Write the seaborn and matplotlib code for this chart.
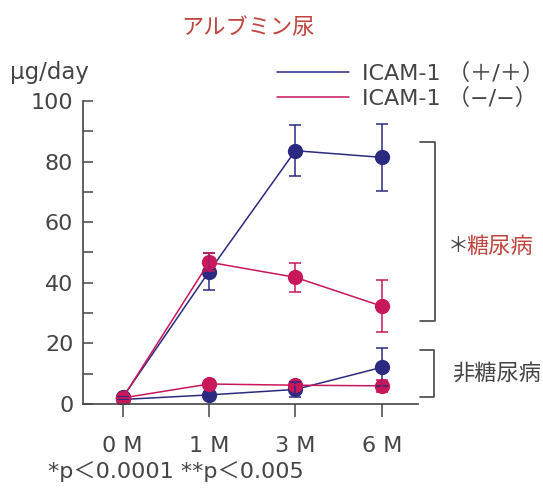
import numpy as np
import matplotlib.pyplot as plt
import seaborn as sns
import pandas as pd
from matplotlib.lines import Line2D

months = ["0 M", "1 M", "3 M", "6 M"]
genotypes = ["ICAM-1 （＋/＋）", "ICAM-1 （−/−）"]

# 糖尿病
wt_dm = [2.2, 43.7, 83.6, 81.4]
wt_dm_sd = [0, 6.0, 8.5, 11.0]
ko_dm = [2.0, 46.8, 41.8, 32.3]
ko_dm_sd = [0, 3.0, 4.7, 8.6]
# 非糖尿病
wt_ctl = [1.5, 3.0, 4.8, 12.1]
wt_ctl_sd = [0, 0, 2.5, 6.3]
ko_ctl = [2.0, 6.6, 6.2, 6.0]
ko_ctl_sd = [0, 0, 0, 2.0]

blue = "#2b2a80"
red = "#c8175a"
grey = "#454545"

sns.set_style("white")
plt.rcParams['font.family'] = ['DejaVu Sans', 'Noto Sans CJK JP']

rows = []
for name, geno, vals in [("wt_ctl", 0, wt_ctl), ("ko_ctl", 1, ko_ctl),
                         ("wt_dm", 0, wt_dm), ("ko_dm", 1, ko_dm)]:
    for i, v in enumerate(vals):
        rows.append({"month": i, "value": v, "genotype": genotypes[geno], "group": name})
df = pd.DataFrame(rows)

fig = plt.figure(figsize=(5.43, 4.9), dpi=100)
ax = fig.add_axes([83 / 543, 86 / 490, (418 - 83) / 543, 303 / 490])

sns.lineplot(data=df, x="month", y="value", hue="genotype", units="group",
             estimator=None, marker="o", markersize=11, markeredgewidth=0,
             palette={genotypes[0]: blue, genotypes[1]: red}, linewidth=1.1,
             ax=ax, legend=False)

x = np.arange(len(months))
for vals, sd, c in [(wt_dm, wt_dm_sd, blue), (ko_dm, ko_dm_sd, red),
                    (wt_ctl, wt_ctl_sd, blue), (ko_ctl, ko_ctl_sd, red)]:
    ax.errorbar(x, vals, yerr=sd, fmt="none", ecolor=c, elinewidth=1.1,
                capsize=4, capthick=1.1)

ax.set_xlim(-0.46, 3.42)
ax.set_ylim(0, 100)
ax.set_xticks(x)
ax.set_xticklabels(months)
ax.set_yticks(np.arange(0, 101, 20))
ax.set_yticks(np.arange(0, 101, 10), minor=True)
ax.set_xlabel("")
ax.set_ylabel("")
for s in ["top", "right"]:
    ax.spines[s].set_visible(False)
for s in ["left", "bottom"]:
    ax.spines[s].set_color(grey)
    ax.spines[s].set_linewidth(1.2)
ax.tick_params(axis="y", which="both", direction="in", length=7, width=1.1,
               color=grey, labelsize=16, labelcolor=grey, pad=7, left=True)
ax.tick_params(axis="x", direction="out", length=9, width=1.1, color=grey,
               labelsize=16, labelcolor=grey, pad=14, bottom=True)

# brackets
bk = dict(color=grey, lw=1.2, clip_on=False)
ax.plot([3.44, 3.62, 3.62, 3.44], [86.5, 86.5, 27.4, 27.4], **bk)
ax.plot([3.44, 3.60, 3.60, 3.44], [17.8, 17.8, 2.4, 2.4], **bk)
ax.text(3.76, 52, "＊", fontsize=15, color=grey, ha="left", va="center",
        family="Noto Sans CJK JP")
ax.text(3.98, 52, "糖尿病", fontsize=16, color="#c0453f", ha="left", va="center",
        family="Noto Sans CJK JP")
ax.text(3.82, 10, "非糖尿病", fontsize=16, color=grey, ha="left", va="center",
        family="Noto Sans CJK JP")

handles = [Line2D([], [], color=blue, lw=1.1), Line2D([], [], color=red, lw=1.1)]
fig.legend(handles, genotypes, loc="upper left", bbox_to_anchor=(266 / 543, 1 - 52 / 490),
           frameon=False, fontsize=16, handlelength=3.24, handletextpad=0.58,
           labelspacing=0.14, borderpad=0, labelcolor=grey)

fig.text(248 / 543, 1 - 27 / 490, "アルブミン尿", fontsize=16, color="#c0453f",
         ha="center", va="center", family="Noto Sans CJK JP")
fig.text(10 / 543, 1 - 73 / 490, "μg/day", fontsize=16.5, color=grey, ha="left", va="center")
fig.text(48 / 543, 1 - 472 / 490, "*p＜0.0001 **p＜0.005", fontsize=16, color=grey,
         ha="left", va="center")

fig.savefig("out.png", dpi=100)
